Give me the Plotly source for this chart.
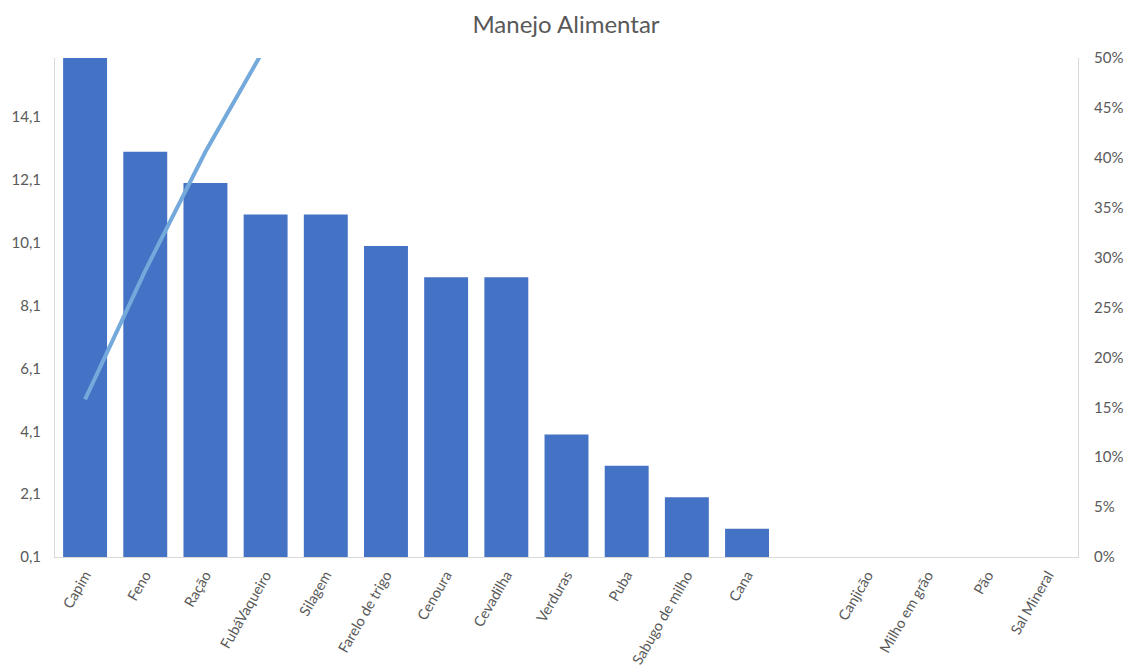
import plotly.graph_objects as go

categories = ["Capim", "Feno", "Ração", "FubáVaqueiro", "Silagem", "Farelo de trigo",
              "Cenoura", "Cevadilha", "Verduras", "Puba", "Sabugo de milho", "Cana",
              " ", "Canjicão", "Milho em grão", "Pão", "Sal Mineral"]
counts = [16, 13, 12, 11, 11, 10, 9, 9, 4, 3, 2, 1, None, 0, 0, 0, 0]
cumulative_pct = [15.8, 28.7, 40.6, 51.5, 62.4, 72.3, 81.2, 90.1, 94.1, 97.0, 99.0, 100.0,
                  None, 100.0, 100.0, 100.0, 100.0]

left_ticks = [0.1, 2.1, 4.1, 6.1, 8.1, 10.1, 12.1, 14.1]
left_labels = ["0,1", "2,1", "4,1", "6,1", "8,1", "10,1", "12,1", "14,1"]
right_ticks = [0, 5, 10, 15, 20, 25, 30, 35, 40, 45, 50]
right_labels = ["0%", "5%", "10%", "15%", "20%", "25%", "30%", "35%", "40%", "45%", "50%"]

FONT = "Lato"
GREY = "#595959"
AXIS_LINE = "#D9D9D9"

fig = go.Figure()
fig.add_trace(go.Bar(
    x=categories, y=counts, marker=dict(color="#4472C4", line=dict(width=0)),
    yaxis="y", showlegend=False,
))
fig.add_trace(go.Scatter(
    x=categories, y=cumulative_pct, mode="lines", yaxis="y2",
    line=dict(color="#74A9DB", width=4), connectgaps=True, showlegend=False,
))

fig.update_layout(
    width=1132, height=671,
    margin=dict(l=55, r=54, t=58, b=114),
    paper_bgcolor="white", plot_bgcolor="white",
    bargap=0.27,
    title=dict(text="Manejo Alimentar", x=0.5, xanchor="center", y=1 - 25 / 671,
               yanchor="middle", yref="container",
               font=dict(family=FONT, size=24, color=GREY)),
    xaxis=dict(type="category", tickangle=-60, showgrid=False, showline=True,
               linecolor=AXIS_LINE, linewidth=1, ticks="", ticklabelstandoff=3,
               automargin=False,
               tickfont=dict(family=FONT, size=14.5, color=GREY)),
    yaxis=dict(range=[0.1, 15.98], tickvals=left_ticks, ticktext=left_labels,
               showgrid=False, zeroline=False, showline=True, linecolor=AXIS_LINE,
               ticks="", ticklabelstandoff=10, automargin=False,
               tickfont=dict(family=FONT, size=15, color=GREY)),
    yaxis2=dict(range=[0, 50], tickvals=right_ticks, ticktext=right_labels,
                overlaying="y", side="right", showgrid=False, zeroline=False,
                showline=True, linecolor=AXIS_LINE, ticks="", ticklabelstandoff=12,
                automargin=False,
                tickfont=dict(family=FONT, size=15, color=GREY)),
)

fig.write_html("out.html")
